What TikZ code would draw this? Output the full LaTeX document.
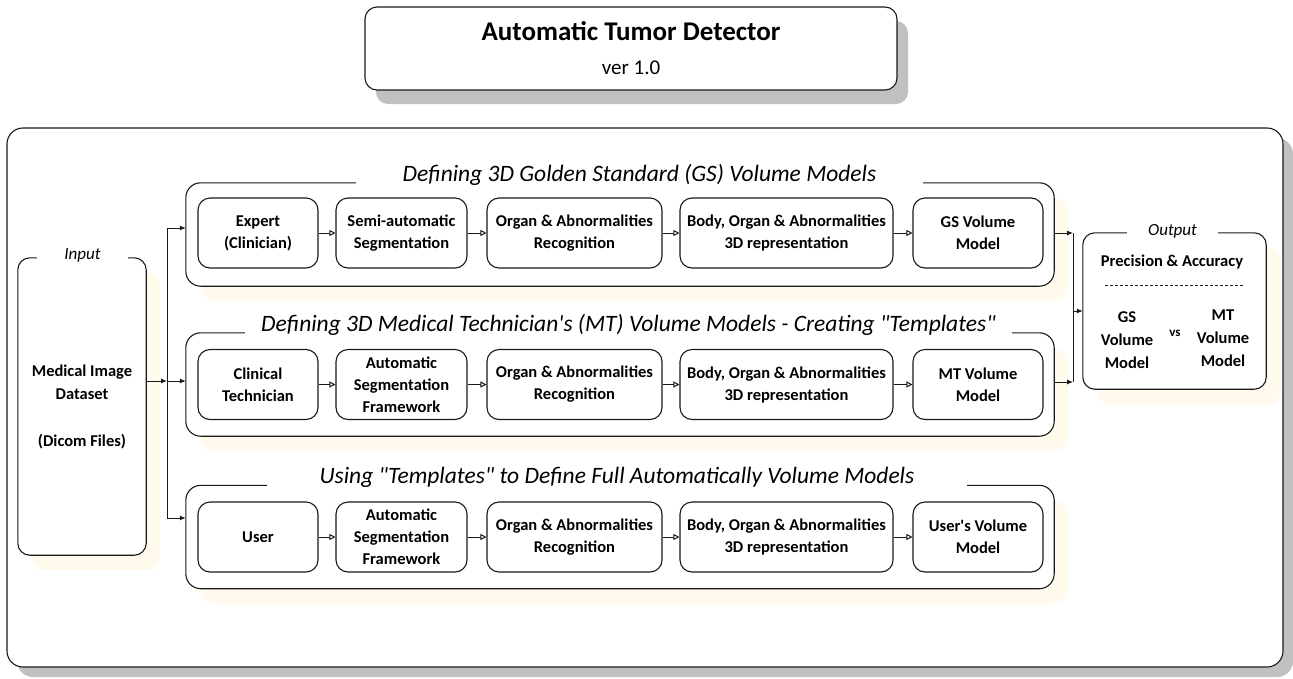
\documentclass[tikz,border=0pt]{standalone}
\usepackage{fontspec}
\setmainfont{Carlito}
\usetikzlibrary{arrows.meta,shadows}
\definecolor{cream}{RGB}{255,250,236}
\definecolor{shade}{RGB}{192,192,192}
\definecolor{ink}{RGB}{25,25,25}
\tikzset{
  frame/.style={draw=ink,line width=1.1pt},
  stepbox/.style={frame,fill=white,rounded corners=12pt,align=center,inner sep=0pt,
     font=\fontsize{16.5}{22}\selectfont\bfseries,minimum height=70pt},
  groupbox/.style={fill=white,rounded corners=15pt,inner sep=0pt,
     drop shadow={shadow xshift=14pt,shadow yshift=-15pt,fill=cream,opacity=1}},
  grouptitle/.style={inner sep=0pt,anchor=base,font=\fontsize{23.5}{27}\selectfont\itshape},
  lbl/.style={inner sep=0pt,minimum width=91pt,font=\fontsize{17}{20}\selectfont\itshape},
  flow/.style={draw=ink,line width=1pt,-{Triangle[open,length=6pt,width=6pt]}},
  feed/.style={draw=ink,line width=1pt,-{Latex[length=6pt,width=5pt]}},
  wire/.style={draw=ink,line width=1pt},
  plain/.style={align=center,inner sep=0pt,font=\fontsize{16.5}{23}\selectfont\bfseries},
}
\begin{document}
\begin{tikzpicture}[x=1pt,y=-1pt]
\useasboundingbox (0,0) rectangle (1293,678);
% title
\node[frame,fill=white,rounded corners=12pt,minimum width=532pt,minimum height=83pt,
  drop shadow={shadow xshift=11pt,shadow yshift=-14pt,fill=shade,opacity=1},align=center,inner sep=0pt,
  font=\fontsize{21}{34}\selectfont]
  (title) at (631,48.5) {{\fontsize{27}{34}\selectfont\bfseries Automatic Tumor Detector}\\{ver 1.0}};
% outer frame
\node[frame,fill=white,rounded corners=16pt,minimum width=1276pt,minimum height=539pt,
  drop shadow={shadow xshift=10pt,shadow yshift=-10pt,fill=shade,opacity=1}] (outer) at (645,397.5) {};
% input
\node[groupbox,rounded corners=12pt,minimum width=128pt,minimum height=297pt,plain] (inp) at (82,406.5)
  {Medical Image\\Dataset\\[24pt](Dicom Files)};
\node[lbl] (inlbl) at (82.5,255) {Input};
\draw[frame,rounded corners=12pt] (inlbl.west |- inp.north) -- (inp.north west) -- (inp.south west)
  -- (inp.south east) -- (inp.north east) -- (inlbl.east |- inp.north);
% groups
\node[groupbox,minimum width=868pt,minimum height=103pt] (g1) at (620,234.5) {};
\node[groupbox,minimum width=868pt,minimum height=103pt] (g2) at (620,384.5) {};
\node[groupbox,minimum width=868pt,minimum height=103pt] (g3) at (620,537) {};
\node[grouptitle,minimum width=567pt] (t1) at (639.5,181) {Defining 3D Golden Standard (GS) Volume Models};
\node[grouptitle,minimum width=767pt] (t2) at (628.5,331) {Defining 3D Medical Technician\textquotesingle s (MT) Volume Models - Creating \textquotedbl Templates\textquotedbl};
\node[grouptitle,minimum width=700pt] (t3) at (617,483) {Using \textquotedbl Templates\textquotedbl{} to Define Full Automatically Volume Models};
\foreach \g/\t in {g1/t1,g2/t2,g3/t3}{
  \draw[frame,rounded corners=15pt] (\t.west |- \g.north) -- (\g.north west) -- (\g.south west)
    -- (\g.south east) -- (\g.north east) -- (\t.east |- \g.north);
}
% row 1
\node[stepbox,minimum width=120pt] (a1) at (258,233) {Expert\\(Clinician)};
\node[stepbox,minimum width=131pt] (a2) at (401.5,233) {Semi-automatic\\Segmentation};
\node[stepbox,minimum width=175pt] (a3) at (574.5,233) {Organ \& Abnormalities\\Recognition};
\node[stepbox,minimum width=213pt] (a4) at (786.5,233) {Body, Organ \& Abnormalities\\3D representation};
\node[stepbox,minimum width=130pt] (a5) at (978,233) {GS Volume\\Model};
% row 2
\node[stepbox,minimum width=120pt] (b1) at (258,384.5) {Clinical\\Technician};
\node[stepbox,minimum width=131pt] (b2) at (401.5,384.5) {Automatic\\Segmentation\\Framework};
\node[stepbox,minimum width=175pt] (b3) at (574.5,384.5) {Organ \& Abnormalities\\Recognition};
\node[stepbox,minimum width=213pt] (b4) at (786.5,384.5) {Body, Organ \& Abnormalities\\3D representation};
\node[stepbox,minimum width=130pt] (b5) at (978,384.5) {MT Volume\\Model};
% row 3
\node[stepbox,minimum width=120pt] (c1) at (258,537) {User};
\node[stepbox,minimum width=131pt] (c2) at (401.5,537) {Automatic\\Segmentation\\Framework};
\node[stepbox,minimum width=175pt] (c3) at (574.5,537) {Organ \& Abnormalities\\Recognition};
\node[stepbox,minimum width=213pt] (c4) at (786.5,537) {Body, Organ \& Abnormalities\\3D representation};
\node[stepbox,minimum width=130pt] (c5) at (978,537) {User\textquotesingle s Volume\\Model};
\foreach \r in {a,b,c}{
  \draw[flow] (\r1) -- (\r2);
  \draw[flow] (\r2) -- (\r3);
  \draw[flow] (\r3) -- (\r4);
  \draw[flow] (\r4) -- (\r5);
}
% output
\node[groupbox,rounded corners=12pt,minimum width=183pt,minimum height=156pt,
  drop shadow={shadow xshift=14pt,shadow yshift=-14pt,fill=cream,opacity=1}] (out) at (1174.5,311) {};
\node[lbl] (outlbl) at (1172.5,231) {Output};
\draw[frame,rounded corners=12pt] (outlbl.west |- out.north) -- (out.north west) -- (out.south west)
  -- (out.south east) -- (out.north east) -- (outlbl.east |- out.north);
\node[plain] (prec) at (1172,262) {Precision \& Accuracy};
\coordinate (dl) at (1105,285);
\coordinate (dr) at (1243,285);
\draw[draw=ink,line width=1pt,dash pattern=on 3.2pt off 1.8pt] (dl) -- (dr);
\node[plain] (gsm) at (1127,340) {GS\\Volume\\Model};
\node[inner sep=0pt,font=\fontsize{13}{15}\selectfont\bfseries] (vs) at (1175,333) {vs};
\node[plain] (mtm) at (1223,338) {MT\\Volume\\Model};
% left fan
\coordinate (jx) at (167,0);
\coordinate (lv1) at (0,228);
\coordinate (lv2) at (0,381);
\coordinate (lv3) at (0,518);
\draw[feed] (inp.east |- lv2) -- (jx |- lv2);
\draw[wire] (jx |- lv1) -- (jx |- lv3);
\draw[feed] (jx |- lv1) -- (g1.west |- lv1);
\draw[feed] (jx |- lv2) -- (g2.west |- lv2);
\draw[feed] (jx |- lv3) -- (g3.west |- lv3);
% right fan
\coordinate (rx) at (1073,0);
\coordinate (rv1) at (0,233);
\coordinate (rv2) at (0,382);
\draw[feed] (g1.east |- rv1) -- (rx |- rv1);
\draw[feed] (g2.east |- rv2) -- (rx |- rv2);
\draw[wire] (rx |- rv1) -- (rx |- rv2);
\draw[feed] (rx |- out.west) -- (out.west);
\end{tikzpicture}
\end{document}
